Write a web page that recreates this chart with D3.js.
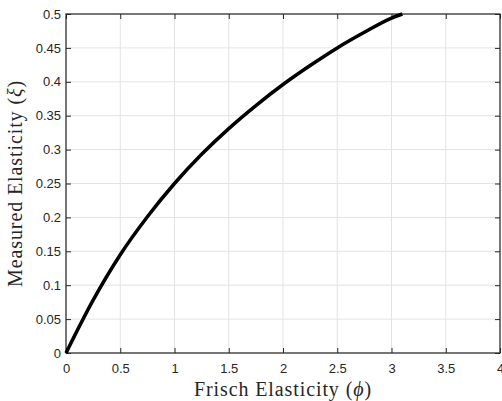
<!DOCTYPE html>
<html>
<head>
<meta charset="utf-8">
<script src="https://cdn.jsdelivr.net/npm/d3@7"></script>
<style>
body { margin: 0; background: #fff; }
text { fill: #262626; }
</style>
</head>
<body>
<script>
var w = 502;
var h = 401;
var margin = {top: 14, right: 2, bottom: 48, left: 66};

//Data
var phiValues = [0, 0.25, 0.5, 0.75, 1, 1.25, 1.5, 1.75, 2, 2.25, 2.5, 2.75, 3, 3.1];
var xiValues = [0, 0.078, 0.145, 0.201, 0.25, 0.293, 0.331, 0.365, 0.396, 0.424, 0.45, 0.473, 0.494, 0.5];
var xTicks = [0, 0.5, 1, 1.5, 2, 2.5, 3, 3.5, 4];
var yTicks = [0, 0.05, 0.1, 0.15, 0.2, 0.25, 0.3, 0.35, 0.4, 0.45, 0.5];

var points = phiValues.map(function(p, i) { return {x: p, y: xiValues[i]}; });

var svg = d3.select("body")
	.append("svg")
	.attr("width", w)
	.attr("height", h);

var x = d3.scaleLinear().domain([0, 4]).range([margin.left, w - margin.right]);
var y = d3.scaleLinear().domain([0, 0.5]).range([h - margin.bottom, margin.top]);

var x0 = x.range()[0], x1 = x.range()[1];
var y0 = y.range()[0], y1 = y.range()[1];

//Grid
svg.append("g").selectAll("line")
	.data(xTicks)
	.enter()
	.append("line")
	.attr("x1", function(d) { return x(d); })
	.attr("x2", function(d) { return x(d); })
	.attr("y1", y0)
	.attr("y2", y1)
	.attr("stroke", "#e3e3e3")
	.attr("stroke-width", 1);
svg.append("g").selectAll("line")
	.data(yTicks)
	.enter()
	.append("line")
	.attr("y1", function(d) { return y(d); })
	.attr("y2", function(d) { return y(d); })
	.attr("x1", x0)
	.attr("x2", x1)
	.attr("stroke", "#e3e3e3")
	.attr("stroke-width", 1);

//Axes (ticks inward, box on)
var fmt = function(d) { return String(d); };
function styleAxis(g) {
	g.select(".domain").remove();
	g.selectAll(".tick line").attr("stroke", "#262626");
	g.selectAll(".tick text")
		.attr("font-family", "'Liberation Sans', Arial, sans-serif")
		.attr("font-size", "13px")
		.attr("fill", "#262626");
}
svg.append("g")
	.attr("transform", "translate(0," + y0 + ")")
	.call(d3.axisBottom(x).tickValues(xTicks).tickFormat(fmt).tickSizeInner(-5).tickSizeOuter(0).tickPadding(11))
	.call(styleAxis);
svg.append("g")
	.attr("transform", "translate(0," + y1 + ")")
	.call(d3.axisTop(x).tickValues(xTicks).tickFormat("").tickSizeInner(-5).tickSizeOuter(0))
	.call(styleAxis);
svg.append("g")
	.attr("transform", "translate(" + x0 + ",0)")
	.call(d3.axisLeft(y).tickValues(yTicks).tickFormat(fmt).tickSizeInner(-5).tickSizeOuter(0).tickPadding(5))
	.call(styleAxis);
svg.append("g")
	.attr("transform", "translate(" + x1 + ",0)")
	.call(d3.axisRight(y).tickValues(yTicks).tickFormat("").tickSizeInner(-5).tickSizeOuter(0))
	.call(styleAxis);

//Box
svg.append("rect")
	.attr("x", x0)
	.attr("y", y1)
	.attr("width", x1 - x0)
	.attr("height", y0 - y1)
	.attr("fill", "none")
	.attr("stroke", "#262626")
	.attr("stroke-width", 1.2);

//Curve
var line = d3.line()
	.x(function(d) { return x(d.x); })
	.y(function(d) { return y(d.y); })
	.curve(d3.curveMonotoneX);
svg.append("path")
	.datum(points)
	.attr("d", line)
	.attr("fill", "none")
	.attr("stroke", "#000")
	.attr("stroke-width", 3.5);

//Labels
var xl = svg.append("text")
	.attr("x", (x0 + x1) / 2)
	.attr("y", 396)
	.attr("text-anchor", "middle")
	.attr("font-family", "'Liberation Serif', 'Times New Roman', serif")
	.attr("font-size", "20px")
	.attr("letter-spacing", "0.9px");
xl.append("tspan").text("Frisch Elasticity (");
xl.append("tspan").attr("font-style", "italic").text("ϕ");
xl.append("tspan").text(")");

var yl = svg.append("text")
	.attr("transform", "translate(22," + ((y0 + y1) / 2) + ") rotate(-90)")
	.attr("text-anchor", "middle")
	.attr("font-family", "'Liberation Serif', 'Times New Roman', serif")
	.attr("font-size", "20px")
	.attr("letter-spacing", "0.9px");
yl.append("tspan").text("Measured Elasticity (");
yl.append("tspan").attr("font-style", "italic").text("ξ");
yl.append("tspan").text(")");
</script>
</body>
</html>
